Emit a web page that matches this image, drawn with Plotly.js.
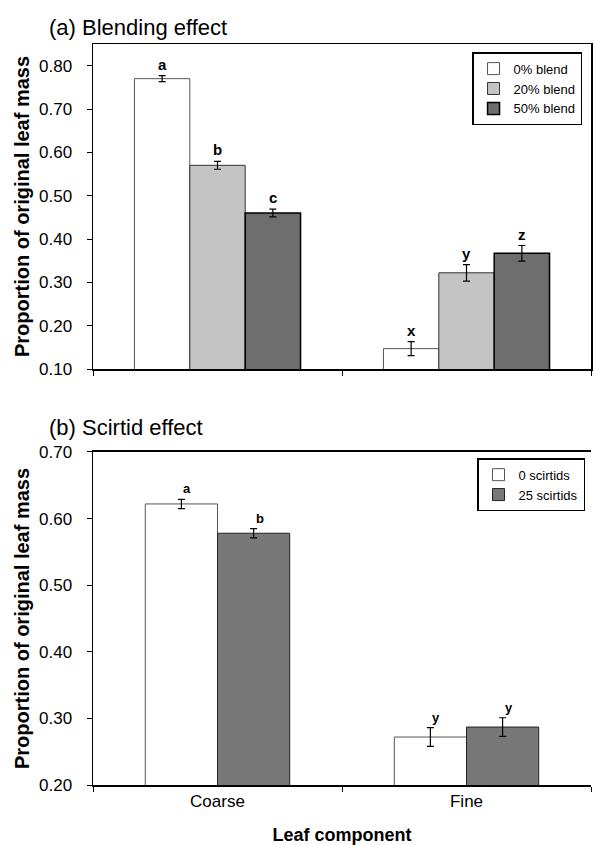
<!DOCTYPE html>
<html>
<head>
<meta charset="utf-8">
<script src="https://cdn.plot.ly/plotly-3.0.1.min.js"></script>
<style>html,body{margin:0;padding:0;background:#fff;}#chart{width:594px;height:845px;}</style>
</head>
<body>
<div id="chart"></div>
<script>
// ---------- data ----------
const categories = ['Coarse', 'Fine'];

// (a) Blending effect
const blendNames = ['0% blend', '20% blend', '50% blend'];
const blend0 = [0.770, 0.147];
const blend0Err = [0.007, 0.016];
const blend0Letters = ['a', 'x'];
const blend20 = [0.570, 0.322];
const blend20Err = [0.009, 0.019];
const blend20Letters = ['b', 'y'];
const blend50 = [0.460, 0.367];
const blend50Err = [0.009, 0.018];
const blend50Letters = ['c', 'z'];

// (b) Scirtid effect
const scirtidNames = ['0 scirtids', '25 scirtids'];
const scirtid0 = [0.622, 0.272];
const scirtid0Err = [0.007, 0.014];
const scirtid0Letters = ['a', 'y'];
const scirtid25 = [0.578, 0.287];
const scirtid25Err = [0.007, 0.014];
const scirtid25Letters = ['b', 'y'];

const yTicksA = [0.10, 0.20, 0.30, 0.40, 0.50, 0.60, 0.70, 0.80];
const yTicksB = [0.20, 0.30, 0.40, 0.50, 0.60, 0.70];

// ---------- styling ----------
const FONT = 'Liberation Sans, Arial, sans-serif';
const blendStyles = [
  {fill: '#ffffff', line: '#555555', lw: 1},
  {fill: '#c4c4c4', line: '#333333', lw: 1},
  {fill: '#6e6e6e', line: '#000000', lw: 1.5}
];
const scirtidStyles = [
  {fill: '#ffffff', line: '#555555', lw: 1},
  {fill: '#787878', line: '#222222', lw: 1}
];
const groupFracA = 0.667;           // fraction of category occupied by the group (panel a)
const barWidthB = 0.29;             // bar width in category units (panel b)

const traces = [];
const annotations = [];

const blendVals = [blend0, blend20, blend50];
const blendErrs = [blend0Err, blend20Err, blend50Err];
const blendLets = [blend0Letters, blend20Letters, blend50Letters];
const wA = groupFracA / blendVals.length;
blendVals.forEach((vals, j) => {
  traces.push({
    type: 'bar', x: categories, y: vals, name: blendNames[j],
    xaxis: 'x', yaxis: 'y', legend: 'legend',
    marker: {color: blendStyles[j].fill, line: {color: blendStyles[j].line, width: blendStyles[j].lw}},
    error_y: {type: 'data', array: blendErrs[j], visible: true, color: '#000', thickness: 1.2, width: 3.5}
  });
  categories.forEach((c, i) => {
    annotations.push({
      xref: 'x', yref: 'y', x: i + (j - (blendVals.length - 1) / 2) * wA,
      y: vals[i] + blendErrs[j][i], yanchor: 'bottom', yshift: 1,
      text: '<b>' + blendLets[j][i] + '</b>', showarrow: false,
      font: {family: FONT, size: 15, color: '#000'}
    });
  });
});

const scVals = [scirtid0, scirtid25];
const scErrs = [scirtid0Err, scirtid25Err];
const scLets = [scirtid0Letters, scirtid25Letters];
scVals.forEach((vals, j) => {
  const off = (j - scVals.length / 2) * barWidthB;
  traces.push({
    type: 'bar', x: categories, y: vals, name: scirtidNames[j],
    xaxis: 'x2', yaxis: 'y2', legend: 'legend2',
    offset: off, width: barWidthB,
    marker: {color: scirtidStyles[j].fill, line: {color: scirtidStyles[j].line, width: scirtidStyles[j].lw}},
    error_y: {type: 'data', array: scErrs[j], visible: true, color: '#000', thickness: 1.2, width: 3.5}
  });
  categories.forEach((c, i) => {
    annotations.push({
      xref: 'x2', yref: 'y2', x: i + off + barWidthB / 2, xshift: 6,
      y: vals[i] + scErrs[j][i], yanchor: 'bottom', yshift: 1,
      text: '<b>' + scLets[j][i] + '</b>', showarrow: false,
      font: {family: FONT, size: 13, color: '#000'}
    });
  });
});

// panel titles
annotations.push({xref: 'paper', yref: 'paper', x: -0.092, y: 1, xanchor: 'left', yanchor: 'bottom', yshift: 2,
  text: '(a) Blending effect', showarrow: false, font: {family: FONT, size: 22, color: '#000'}});
annotations.push({xref: 'paper', yref: 'paper', x: -0.092, y: 0.4494, xanchor: 'left', yanchor: 'bottom', yshift: 10,
  text: '(b) Scirtid effect', showarrow: false, font: {family: FONT, size: 22, color: '#000'}});

const yTitle = {text: '<b>Proportion of original leaf mass</b>', font: {family: FONT, size: 20, color: '#000'}, standoff: 4};
const commonY = {
  showgrid: false, zeroline: false, showline: true, linecolor: '#000', linewidth: 1.5,
  ticks: 'outside', ticklen: 5, tickcolor: '#000', tickformat: '.2f', ticklabelstandoff: 11,
  tickfont: {family: FONT, size: 17, color: '#000'}, automargin: false
};
const commonX = {
  type: 'category', showgrid: false, zeroline: false, showline: true, linecolor: '#000', linewidth: 1.5,
  ticks: 'outside', ticklen: 5, tickcolor: '#000', tickson: 'boundaries',
  tickfont: {family: FONT, size: 17, color: '#000'}, automargin: false
};

const layout = {
  width: 594, height: 845,
  margin: {l: 93, r: 3, t: 44, b: 60},
  paper_bgcolor: '#fff', plot_bgcolor: '#fff',
  font: {family: FONT, color: '#000'},
  barmode: 'group', bargap: 1 - groupFracA, bargroupgap: 0,
  showlegend: true,
  xaxis: Object.assign({}, commonX, {anchor: 'y', domain: [0, 1], showticklabels: false, mirror: true}),
  yaxis: Object.assign({}, commonY, {anchor: 'x', domain: [0.5614, 1], range: [0.10, 0.85], tickvals: yTicksA, mirror: true, title: yTitle}),
  xaxis2: Object.assign({}, commonX, {anchor: 'y2', domain: [0, 1], mirror: true,
    title: {text: '<b>Leaf component</b>', font: {family: FONT, size: 18, color: '#000'}, standoff: 18}}),
  yaxis2: Object.assign({}, commonY, {anchor: 'x2', domain: [0, 0.4494], range: [0.20, 0.70], tickvals: yTicksB, title: yTitle}),
  legend: {x: 0.982, xanchor: 'right', y: 0.989, yanchor: 'top', bgcolor: '#fff', bordercolor: '#000', borderwidth: 1.5,
    font: {family: FONT, size: 13, color: '#000'}, itemwidth: 30, tracegroupgap: 0},
  legend2: {x: 0.988, xanchor: 'right', y: 0.441, yanchor: 'top', bgcolor: '#fff', bordercolor: '#000', borderwidth: 1.5,
    font: {family: FONT, size: 13, color: '#000'}, itemwidth: 30, tracegroupgap: 0},
  annotations: annotations
};

Plotly.newPlot('chart', traces, layout, {displayModeBar: false, staticPlot: true});
</script>
</body>
</html>
